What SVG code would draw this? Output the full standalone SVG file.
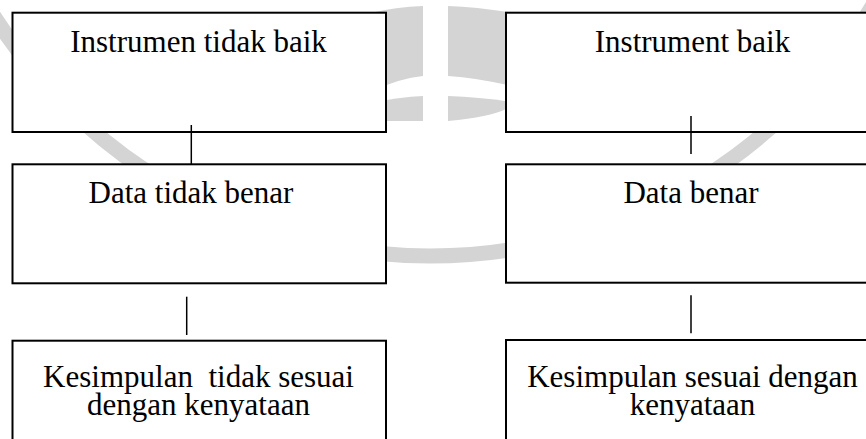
<svg xmlns="http://www.w3.org/2000/svg" width="866" height="439" viewBox="0 0 866 439">
<style>
.box{fill:#fff;stroke:#000;stroke-width:2}
.lbl{font-family:"Liberation Serif","Times New Roman",serif;font-size:31px;fill:#000;text-anchor:middle;white-space:pre}
.conn line{stroke:#000;stroke-width:1.5}
.wm{fill:#d4d4d4}
</style>
<rect width="866" height="439" fill="#fff"/>
<g id="watermark">
<circle cx="430" cy="-260" r="516" fill="none" stroke="#d4d4d4" stroke-width="15"/>
<path class="wm" d="M370,13 Q396,7 423,6 L423,76 Q400,78 370,92 Z"/>
<path class="wm" d="M370,103 Q400,97 423,96 L423,121 L370,121 Z"/>
<path class="wm" d="M448,6 Q480,7 520,14 L520,88 Q480,78 448,76 Z"/>
<path class="wm" d="M448,96 Q480,97 512,102 L506,109 Q490,117 448,121 Z"/>
</g>
<g id="n1">
<rect class="box" x="12.5" y="12.7" width="373.5" height="119.3"/>
<text class="lbl" font-family="Liberation Serif, Times New Roman, serif" x="198.5" y="52">Instrumen tidak baik</text>
</g>
<g id="n2">
<rect class="box" x="12.5" y="164.3" width="373.5" height="119"/>
<text class="lbl" font-family="Liberation Serif, Times New Roman, serif" x="191" y="203">Data tidak benar</text>
</g>
<g id="n3">
<rect class="box" x="12.5" y="340.7" width="373.5" height="120"/>
<text class="lbl" font-family="Liberation Serif, Times New Roman, serif" x="198.5" y="387"><tspan x="198.5" y="387">Kesimpulan  tidak sesuai</tspan><tspan x="198.5" y="415">dengan kenyataan</tspan></text>
</g>
<g id="n4">
<rect class="box" x="506" y="12.7" width="380" height="119.3"/>
<text class="lbl" font-family="Liberation Serif, Times New Roman, serif" x="692.5" y="52">Instrument baik</text>
</g>
<g id="n5">
<rect class="box" x="506" y="164.3" width="380" height="118.4"/>
<text class="lbl" font-family="Liberation Serif, Times New Roman, serif" x="691" y="203">Data benar</text>
</g>
<g id="n6">
<rect class="box" x="506" y="340" width="380" height="120"/>
<text class="lbl" font-family="Liberation Serif, Times New Roman, serif" x="692.5" y="386.5"><tspan x="692.5" y="386.5">Kesimpulan sesuai dengan</tspan><tspan x="692.5" y="414.5">kenyataan</tspan></text>
</g>
<g id="connectors" class="conn">
<line x1="191.3" y1="125" x2="191.3" y2="164"/>
<line x1="186.7" y1="296.7" x2="186.7" y2="335"/>
<line x1="691" y1="116" x2="691" y2="154"/>
<line x1="691" y1="295.3" x2="691" y2="333.3"/>
</g>
</svg>
